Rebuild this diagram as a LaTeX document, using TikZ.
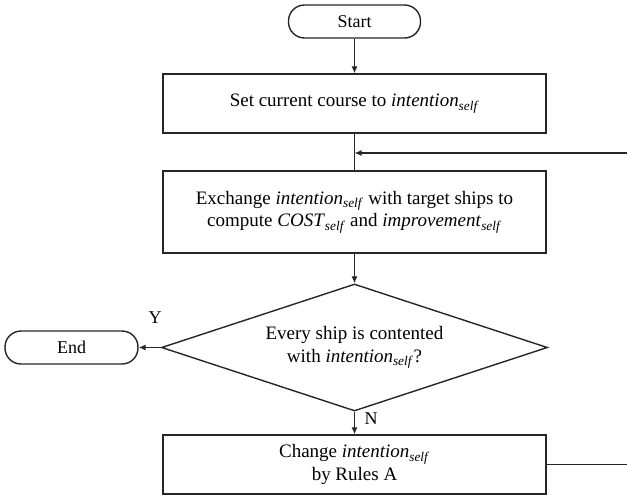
\documentclass[tikz,border=0pt]{standalone}
\usepackage{fontspec}
\setmainfont{Liberation Serif}
\usetikzlibrary{shapes.geometric,arrows.meta}
\newcommand\iself{\textit{intention}\textsubscript{\textit{self}}}
\newcommand\cself{\textit{COST}\textsubscript{\textit{self}}}
\newcommand\imself{\textit{improvement}\textsubscript{\textit{self}}}
\begin{document}
\begin{tikzpicture}[x=1pt,y=-1pt,
  line/.style={draw=black!85,line width=1.4pt},
  arr/.style={draw=black!85,line width=1.1pt,-{Latex[length=7pt,width=6pt]}},
  term/.style={line,rounded corners=16pt,minimum height=33pt,inner sep=0pt,font=\fontsize{18}{21}\selectfont},
  proc/.style={line,minimum width=383pt,inner sep=0pt,align=center,font=\fontsize{19}{22.5}\selectfont},
  dec/.style={line,diamond,aspect=3,inner sep=0pt,minimum width=386pt,minimum height=127pt,align=center,font=\fontsize{19}{22.5}\selectfont},
  lbl/.style={font=\fontsize{18}{20}\selectfont,inner sep=0pt}
]
\useasboundingbox (0,0) rectangle (627,496);
\node[term,minimum width=132pt] (start) at (354.5,21.5) {Start};
\node[proc,minimum height=59pt] (b1) at (354.5,103.5) {Set current course to \iself};
\node[proc,minimum height=82pt] (b2) at (354.5,212) {Exchange \iself{} with target ships to\\compute \cself{} and \imself};
\node[dec] (d) at (354.5,347.5) {Every ship is contented\\with \iself?};
\node[term,minimum width=133pt] (end) at (71.5,347.5) {End};
\node[proc,minimum height=59pt] (b3) at (354.5,464.5) {Change \iself\\by Rules A};
\node[lbl] (y) at (155,318) {Y};
\node[lbl] (n) at (371,419) {N};
\coordinate (j) at (354.5,153);
\coordinate (c1) at (645,464.5);
\coordinate (c2) at (645,153);
\draw[arr] (start) -- (b1);
\draw[arr,-] (b1) -- (b2);
\draw[arr] (b2) -- (d);
\draw[arr] (d) -- (end);
\draw[arr] (d) -- (b3);
\draw[arr] (b3.east) -- (c1) -- (c2) -- (j);
\end{tikzpicture}
\end{document}
